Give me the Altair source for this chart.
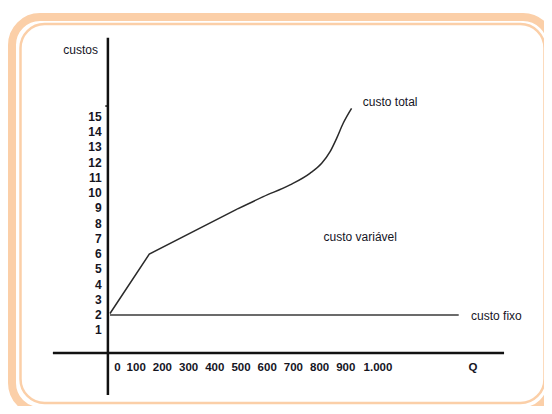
import altair as alt
import pandas as pd

# ---- data ----
q_total = [0, 150, 485, 585, 687, 763, 808, 840, 865, 890, 922]
c_total = [2.1, 6.0, 8.95, 9.77, 10.54, 11.3, 11.96, 12.72, 13.6, 14.59, 15.57]
q_fixo = [0, 1331]
c_fixo = [2, 2]
x_ticks = [0, 100, 200, 300, 400, 500, 600, 700, 800, 900, 1000]
x_tick_labels = ["0", "100", "200", "300", "400", "500", "600", "700", "800", "900", "1.000"]
y_ticks = list(range(1, 16))
y_tick_labels = [str(v) for v in y_ticks]
series_names = ["custo total", "custo variável", "custo fixo"]
series_q = [965, 815, 1378]
series_c = [16.0, 7.1, 1.95]

FONT = "Liberation Sans"
INK = "#15151f"
PEACH = "#fbcfa8"

xs = alt.Scale(domain=[0, 1000], range=[102, 364], nice=False, zero=False)
ys = alt.Scale(domain=[0, 15], range=[337.46, 109], nice=False, zero=False)


def X(f):
    return alt.X(f, type="quantitative", scale=xs, axis=None)


def Y(f):
    return alt.Y(f, type="quantitative", scale=ys, axis=None)


one = alt.Data(values=[{"a": 1}])

outer = alt.Chart(one).mark_rect(
    cornerRadius=28, fill="transparent", stroke=PEACH, strokeWidth=8
).encode(x=alt.value(4), x2=alt.value(543), y=alt.value(9), y2=alt.value(403))

inner = alt.Chart(one).mark_rect(
    cornerRadius=24, fill="transparent", stroke=PEACH, strokeWidth=2.5
).encode(x=alt.value(12.5), x2=alt.value(536.5), y=alt.value(16), y2=alt.value(395))

yaxis_df = pd.DataFrame({"q": [-8], "c": [-3.25], "c2": [20.2]})
xaxis_df = pd.DataFrame({"q": [-218], "q2": [1504], "c": [-0.5]})
notch_df = pd.DataFrame({"q": [-18], "q2": [-8], "c": [15.72]})

yaxis = alt.Chart(yaxis_df).mark_rule(color="#111111", strokeWidth=2.5).encode(
    x=X("q"), y=Y("c"), y2="c2"
)
xaxis = alt.Chart(xaxis_df).mark_rule(color="#111111", strokeWidth=2.5).encode(
    x=X("q"), x2="q2", y=Y("c")
)
notch = alt.Chart(notch_df).mark_rule(color="#111111", strokeWidth=1.5).encode(
    x=X("q"), x2="q2", y=Y("c")
)

lin_df = pd.DataFrame({"q": q_total[:3], "c": c_total[:3]})
curve_df = pd.DataFrame({"q": q_total[2:], "c": c_total[2:]})
fixo_df = pd.DataFrame({"q": q_fixo, "c": c_fixo})

total_lin = alt.Chart(lin_df).mark_line(color="#2a2a2a", strokeWidth=1.5).encode(
    x=X("q"), y=Y("c")
)
total_curve = alt.Chart(curve_df).mark_line(
    color="#2a2a2a", strokeWidth=1.5, interpolate="monotone"
).encode(x=X("q"), y=Y("c"))
fixo = alt.Chart(fixo_df).mark_line(color="#3a3a3a", strokeWidth=1.4).encode(
    x=X("q"), y=Y("c")
)

xt_df = pd.DataFrame({"q": x_ticks, "lbl": x_tick_labels})
yt_df = pd.DataFrame({"v": y_ticks, "lbl": y_tick_labels})

x_style = dict(font=FONT, fontSize=11.5, fontWeight="bold", color=INK, baseline="middle")
y_style = dict(font=FONT, fontSize=12, fontWeight="bold", color=INK, baseline="middle")

ytl = alt.Chart(yt_df).mark_text(align="right", **y_style).encode(
    x=alt.value(93.7), y=Y("v"), text="lbl:N"
)
xtl_mid = alt.Chart(xt_df).transform_filter(
    "datum.q > 0 && datum.q < 1000"
).mark_text(align="center", **x_style).encode(
    x=X("q"), y=alt.value(360), text="lbl:N"
)
xtl_first = alt.Chart(xt_df).transform_filter("datum.q == 0").mark_text(
    align="center", dx=7.5, **x_style
).encode(x=X("q"), y=alt.value(360), text="lbl:N")
xtl_last = alt.Chart(xt_df).transform_filter("datum.q == 1000").mark_text(
    align="center", dx=6, **x_style
).encode(x=X("q"), y=alt.value(360), text="lbl:N")

qlab = alt.Chart(pd.DataFrame({"q": [1385], "t": ["Q"]})).mark_text(
    align="center", **x_style
).encode(x=X("q"), y=alt.value(360), text="t:N")

ylab = alt.Chart(pd.DataFrame({"t": ["custos"]})).mark_text(
    align="right", baseline="middle", font=FONT, fontSize=12, color=INK
).encode(x=alt.value(90), y=alt.value(42), text="t:N")

ser_df = pd.DataFrame({"name": series_names, "q": series_q, "c": series_c})
serlab = alt.Chart(ser_df).mark_text(
    align="left", baseline="middle", font=FONT, fontSize=12, color=INK
).encode(x=X("q"), y=Y("c"), text="name:N")

chart = alt.layer(
    outer, inner, fixo, total_lin, total_curve, yaxis, xaxis, notch,
    ytl, xtl_mid, xtl_first, xtl_last, qlab, ylab, serlab
).properties(
    width=536, height=398, padding=0, background="white",
    autosize=alt.AutoSizeParams(type="none"),
).configure_view(strokeWidth=0)

chart.save("out.html", embed_options={"renderer": "svg", "actions": False})
